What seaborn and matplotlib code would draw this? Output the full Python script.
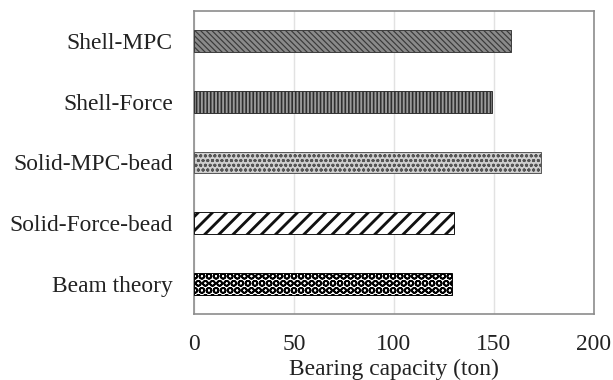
import matplotlib
matplotlib.use("Agg")
import matplotlib.pyplot as plt
import seaborn as sns
import pandas as pd

methods = ["Shell-MPC", "Shell-Force", "Solid-MPC-bead", "Solid-Force-bead", "Beam theory"]
capacity = [158.5, 149, 173.5, 130, 129]
x_ticks = [0, 50, 100, 150, 200]

# (face colour, hatch colour, hatch pattern, hatch line width)
styles = [
    ("#8a8a8a", "#3a3a3a", "\\\\\\\\\\", 1.0),
    ("#9a9a9a", "#2e2e2e", "||||", 1.4),
    ("#cfcfcf", "#555555", "ooo", 1.0),
    ("#ffffff", "#111111", "//", 2.4),
    ("#ffffff", "#000000", "OO", 1.45),
]

DPI = 85
W, H = 613, 380


def pt(px):
    return px * 72 / DPI


sns.set_theme(style="white")
plt.rcParams["font.family"] = ["Liberation Serif", "DejaVu Serif"]

df = pd.DataFrame({"method": methods, "capacity": capacity})

fig = plt.figure(figsize=(W / DPI, H / DPI), dpi=DPI)
ax = fig.add_axes([194 / W, 1 - 314 / H, 400 / W, 303 / H])

sns.barplot(data=df, x="capacity", y="method", order=methods, color="white",
            width=0.36, linewidth=0.8, ax=ax, zorder=3)

for patch, (face, hcol, h, hlw) in zip(ax.patches, styles):
    patch.set_facecolor(face)
    patch.set_edgecolor(hcol)
    patch.set_hatch(h)
    if hasattr(patch, "set_hatch_linewidth"):
        patch.set_hatch_linewidth(hlw)

ax.set_xlim(0, 200)
ax.set_xticks(x_ticks)
ax.xaxis.grid(True, color="#e2e2e2", linewidth=1.2, zorder=0)
ax.set_axisbelow(True)
for s in ax.spines.values():
    s.set_color("#8c8c8c")
    s.set_linewidth(1.4)

fs = pt(23.5)
ax.tick_params(axis="x", labelsize=fs, pad=pt(20), length=0, colors="#222222")
ax.tick_params(axis="y", labelsize=fs, pad=pt(21), length=0, colors="#222222")
ax.set_xlabel("Bearing capacity (ton)", fontsize=fs, color="#222222", labelpad=pt(4))
ax.set_ylabel("")

fig.savefig("out.png", dpi=DPI)
